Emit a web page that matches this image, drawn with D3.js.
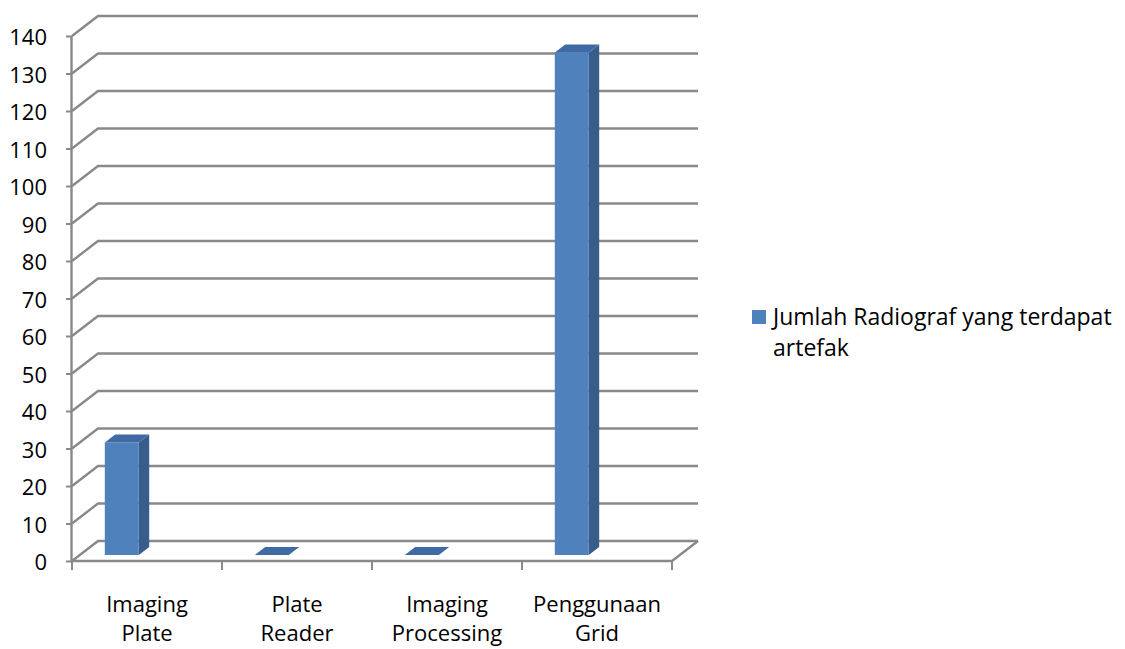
<!DOCTYPE html>
<html>
<head>
<meta charset="utf-8">
<script src="https://cdn.jsdelivr.net/npm/d3@7"></script>
<style>
  html, body { margin: 0; padding: 0; background: #fff; }
  svg { display: block; }
  text { font-family: "Open Sans", "Noto Sans", sans-serif; fill: #000; }
</style>
</head>
<body>
<svg id="chart" width="1125" height="649"></svg>
<script>
// Artefact counts per source
const categories = ["Imaging Plate", "Plate Reader", "Imaging Processing", "Penggunaan Grid"];
const values = [30, 0, 0, 134];
const yTicks = [0, 10, 20, 30, 40, 50, 60, 70, 80, 90, 100, 110, 120, 130, 140];
const seriesName = "Jumlah Radiograf yang terdapat artefak";

const svg = d3.select("#chart");

// Front plane of the 3D box and the oblique depth offset
const plot = { left: 72, right: 672, top: 36, bottom: 561 };
const DX = 26, DY = -20;
const proj = (x, y, t) => [x + DX * t, y + DY * t];

const x = d3.scaleBand().domain(categories).range([plot.left, plot.right]).padding(0);
const y = d3.scaleLinear().domain([0, 140]).range([plot.bottom, plot.top]);

const gridColor = "#898989";
const line = d3.line();

// Walls: a diagonal on the side wall and a horizontal on the back wall per tick
const grid = svg.append("g").attr("fill", "none").attr("stroke", gridColor).attr("stroke-width", 2.4);
yTicks.forEach(v => {
  const yy = y(v);
  grid.append("path").attr("d", line([proj(plot.left, yy, 0), proj(plot.left, yy, 1), proj(plot.right, yy, 1)]));
});
// Floor: front edge and right edge
grid.append("path").attr("d", line([[plot.left, plot.bottom], [plot.right, plot.bottom], proj(plot.right, plot.bottom, 1)]));

// Value axis
const yAxis = svg.append("g")
  .attr("transform", `translate(${plot.left},0)`)
  .call(d3.axisLeft(y).tickValues(yTicks).tickSize(6).tickPadding(19).tickFormat(d3.format("d")));
yAxis.select(".domain").attr("stroke", gridColor).attr("stroke-width", 2.4)
  .attr("d", `M-0.5,${plot.top}V${plot.bottom}`);
yAxis.selectAll(".tick line").attr("stroke", gridColor).attr("stroke-width", 2);
yAxis.selectAll(".tick text").attr("font-size", 22).attr("dy", "0.4em")
  .style("font-family", "'Open Sans', sans-serif").attr("fill", "#000");

// Category boundary ticks on the floor's front edge
const bounds = categories.map(c => x(c)).concat([plot.right]);
svg.append("g").selectAll("line").data(bounds).join("line")
  .attr("x1", d => d).attr("x2", d => d)
  .attr("y1", plot.bottom).attr("y2", plot.bottom + 9)
  .attr("stroke", gridColor).attr("stroke-width", 2);

// Category labels (two lines each)
const xAxis = svg.append("g")
  .attr("transform", `translate(0,${plot.bottom})`)
  .call(d3.axisBottom(x).tickSize(0).tickPadding(0));
xAxis.select(".domain").remove();
xAxis.selectAll(".tick text").each(function(d) {
  const t = d3.select(this).text(null).attr("y", 0).attr("dy", null)
    .attr("font-size", 22).style("font-family", "'Open Sans', sans-serif").attr("fill", "#000");
  d.split(" ").forEach((w, i) => {
    t.append("tspan").attr("x", 0).attr("y", 51 + i * 29).text(w);
  });
});

// 3D columns: front face at depth 0.3, back face at depth 0.7
const t0 = 0.3, t1 = 0.7;
const bw = x.bandwidth();
const colFront = "#4f81bd", colSide = "#385d8a", colTop = "#3f6aa3";
const bars = svg.append("g");
categories.forEach((c, i) => {
  const xl = x(c) + bw * 25 / 150, xr = x(c) + bw * 59 / 150;
  const yb = y(0), yt = y(values[i]);
  const g = bars.append("g");
  if (values[i] > 0) {
    g.append("path").attr("fill", colSide)
      .attr("d", line([proj(xr, yt, t0), proj(xr, yt, t1), proj(xr, yb, t1), proj(xr, yb, t0)]) + "Z");
    g.append("path").attr("fill", colFront)
      .attr("d", line([proj(xl, yt, t0), proj(xr, yt, t0), proj(xr, yb, t0), proj(xl, yb, t0)]) + "Z");
  }
  g.append("path").attr("fill", colTop)
    .attr("d", line([proj(xl, yt, t0), proj(xr, yt, t0), proj(xr, yt, t1), proj(xl, yt, t1)]) + "Z");
});

// Legend
const legend = svg.append("g").attr("transform", "translate(752,310)");
legend.append("rect").attr("width", 14).attr("height", 14).attr("fill", colFront);
const lt = legend.append("text").attr("font-size", 23);
const words = seriesName.split(" ");
lt.append("tspan").attr("x", 21).attr("y", 15).text(words.slice(0, 4).join(" "));
lt.append("tspan").attr("x", 21).attr("y", 46).text(words.slice(4).join(" "));
</script>
</body>
</html>
